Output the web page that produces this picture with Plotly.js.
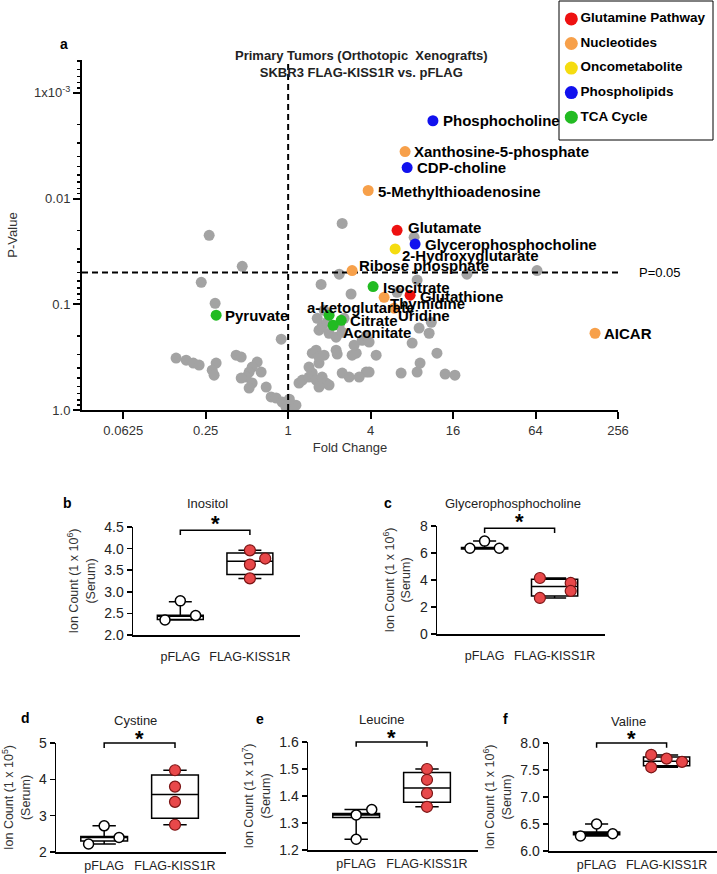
<!DOCTYPE html>
<html>
<head>
<meta charset="utf-8">
<script src="https://cdn.plot.ly/plotly-3.0.1.min.js"></script>
<style>
  html, body { margin: 0; padding: 0; background: #fff; }
  #chart { width: 717px; height: 874px; }
</style>
</head>
<body>
<div id="chart"></div>
<script>
/* ---- volcano: background metabolites (fold change, p-value) ---- */
var greyFC = [2.48, 0.265, 0.462, 0.232, 0.293, 2.36, 1.74, 2.88, 8.31, 20.2,
  65.6, 8.74, 6.24, 0.89, 0.152, 0.180, 0.203, 0.224, 0.298, 0.279,
  0.288, 0.417, 0.454, 0.594, 0.546, 0.519, 0.635, 0.494, 0.454, 0.546,
  0.691, 0.519, 0.751, 0.817, 0.904, 1.02, 0.967, 1.07, 1.14, 1.02,
  1.20, 1.27, 1.42, 1.50, 1.60, 1.77, 1.89, 1.99, 1.68, 1.42,
  1.68, 1.50, 1.60, 1.68, 1.83, 2.24, 2.28, 3.14, 1.68, 1.77,
  1.99, 2.24, 2.48, 2.48, 2.79, 3.71, 3.30, 2.93, 4.39, 3.47,
  3.71, 9.04, 11.1, 10.7, 8.04, 12.2, 9.19, 8.74, 6.68, 14.0,
  16.5, 3.90, 3.90, 1.83, 1.63, 2.56, 1.93, 2.36, 3.03];
var greyP = [0.0172, 0.0223, 0.0438, 0.062, 0.098, 0.052, 0.065, 0.080, 0.0233, 0.052,
  0.048, 0.059, 0.077, 0.214, 0.323, 0.338, 0.36, 0.376, 0.36, 0.42,
  0.468, 0.303, 0.316, 0.352, 0.393, 0.438, 0.438, 0.488, 0.499, 0.556,
  0.607, 0.62, 0.753, 0.77, 0.84, 0.86, 0.94, 0.96, 0.90, 0.79,
  0.556, 0.521, 0.488, 0.448, 0.521, 0.488, 0.556, 0.581, 0.607, 0.393,
  0.36, 0.29, 0.272, 0.316, 0.303, 0.272, 0.296, 0.29, 0.176, 0.161,
  0.188, 0.205, 0.184, 0.448, 0.488, 0.438, 0.488, 0.303, 0.303, 0.219,
  0.20, 0.168, 0.148, 0.188, 0.233, 0.29, 0.36, 0.438, 0.448, 0.457,
  0.468, 0.438, 0.228, 0.114, 0.136, 0.136, 0.148, 0.158, 0.244];

/* ---- volcano: labelled metabolites by pathway ---- */
var glutNames = ['Glutamate', 'Glutathione'];
var glutFC = [6.24, 7.77];
var glutP = [0.020, 0.082];

var nucNames = ['Xanthosine-5-phosphate', '5-Methylthioadenosine', 'Ribose phosphate', 'Thymidine', 'Uridine', 'AICAR'];
var nucFC = [7.14, 3.84, 2.93, 5.02, 5.94, 174];
var nucP = [0.0036, 0.0084, 0.048, 0.086, 0.109, 0.188];

var oncoNames = ['2-Hydroxyglutarate'];
var oncoFC = [6.04];
var oncoP = [0.030];

var phosNames = ['Phosphocholine', 'CDP-choline', 'Glycerophosphocholine'];
var phosFC = [11.4, 7.39, 8.45];
var phosP = [0.00184, 0.0051, 0.027];

var tcaNames = ['Isocitrate', 'a-ketoglutarate', 'Citrate', 'Aconitate', 'Pyruvate'];
var tcaFC = [4.17, 1.99, 2.44, 2.13, 0.298];
var tcaP = [0.068, 0.127, 0.142, 0.158, 0.127];

var pathwayNames = ['Glutamine Pathway', 'Nucleotides', 'Oncometabolite', 'Phospholipids', 'TCA Cycle'];

var fcTicks = [0.0625, 0.25, 1, 4, 16, 64, 256];
var pTicks = [0.001, 0.01, 0.1, 1];
var pTickText = ['1x10<sup>-3</sup>', '0.01', '0.1', '1.0'];
var pCutoff = 0.05;

/* ---- serum panels: ion counts ---- */
var groups = ['pFLAG', 'FLAG-KISS1R'];

var inositolPFLAG = [2.35, 2.79, 2.45];
var inositolKISS = [3.96, 3.77, 3.63, 3.31];
var glycPFLAG = [6.35, 6.88, 6.35];
var glycKISS = [4.15, 3.78, 3.19, 2.67];
var cystinePFLAG = [2.22, 2.72, 2.40];
var cystineKISS = [4.25, 3.80, 3.38, 2.75];
var leucinePFLAG = [1.24, 1.33, 1.35];
var leucineKISS = [1.50, 1.46, 1.41, 1.36];
var valinePFLAG = [6.28, 6.50, 6.32];
var valineKISS = [7.78, 7.71, 7.65, 7.55];

// box stats: min, q1, median, q3, max
var inositolBoxP = [2.35, 2.36, 2.44, 2.46, 2.77];
var inositolBoxK = [3.31, 3.40, 3.71, 3.90, 3.96];
var glycBoxP = [6.30, 6.30, 6.37, 6.40, 6.88];
var glycBoxK = [2.67, 2.81, 3.51, 4.05, 4.15];
var cystineBoxP = [2.22, 2.30, 2.42, 2.43, 2.72];
var cystineBoxK = [2.75, 2.93, 3.58, 4.12, 4.25];
var leucineBoxP = [1.24, 1.32, 1.33, 1.335, 1.35];
var leucineBoxK = [1.36, 1.377, 1.43, 1.487, 1.50];
var valineBoxP = [6.28, 6.30, 6.33, 6.35, 6.50];
var valineBoxK = [7.55, 7.58, 7.66, 7.74, 7.78];

var W = 717, H = 874;
var FONT = 'Liberation Sans, Arial, sans-serif';
function fx(px) { return px / W; }
function fy(py) { return 1 - py / H; }

var colors = { glut: '#ee1111', nuc: '#f7a04a', onco: '#f5dc10', phos: '#1111ee', tca: '#22bb22' };
var pTop = 0.00049;
var fcMin = 1 / 32, fcMax = 256;

var data = [];
var notes = [];

/* grey background points */
data.push({
  type: 'scatter', mode: 'markers', x: greyFC, y: greyP,
  marker: { size: 11, color: '#a3a3a3' },
  hoverinfo: 'skip', xaxis: 'x', yaxis: 'y'
});

/* dashed cut-off lines */
data.push({
  type: 'scatter', mode: 'lines', x: [1, 1], y: [1, pTop],
  line: { color: '#000', width: 2, dash: '6px,4px' },
  hoverinfo: 'skip', xaxis: 'x', yaxis: 'y', cliponaxis: false
});
data.push({
  type: 'scatter', mode: 'lines', x: [fcMin, fcMax], y: [pCutoff, pCutoff],
  line: { color: '#000', width: 2, dash: '6px,4px' },
  hoverinfo: 'skip', xaxis: 'x', yaxis: 'y', cliponaxis: false
});

// label offsets in px: [dx from marker centre to text start, dy of text centre (down +)]
function pathway(color, fc, p, labels, shift) {
  data.push({
    type: 'scatter', mode: 'markers', x: fc, y: p,
    marker: { size: 11, color: color },
    xaxis: 'x', yaxis: 'y', cliponaxis: false, hoverinfo: 'skip'
  });
  labels.forEach(function (lab, i) {
    notes.push({
      xref: 'x', yref: 'y', x: Math.log10(fc[i]), y: Math.log10(p[i]),
      xanchor: 'left', yanchor: 'middle', xshift: shift[i][0], yshift: -shift[i][1],
      text: '<b>' + lab + '</b>', showarrow: false,
      font: { family: FONT, size: 15, color: '#000' }
    });
  });
}
pathway(colors.glut, glutFC, glutP, glutNames, [[9, -3], [8, 1]]);
pathway(colors.nuc, nucFC, nucP, nucNames, [[7, 0], [8, 1], [5, -5], [4, 6], [2, 7], [7, 0]]);
pathway(colors.onco, oncoFC, oncoP, oncoNames, [[5, 7]]);
pathway(colors.phos, phosFC, phosP, phosNames, [[8, 0], [8, 0], [8, 0]]);
pathway(colors.tca, tcaFC, tcaP, tcaNames, [[8, 1], [-24, -8], [7, 0], [8, 7], [7, 0]]);

/* legend drawn on its own small axis pair */
data.push({
  type: 'scatter', mode: 'markers+text',
  x: pathwayNames.map(function () { return 0.08; }),
  y: pathwayNames.map(function (n, i) { return i; }),
  text: pathwayNames, textposition: 'middle right',
  textfont: { family: FONT, size: 13.5, color: '#000', weight: 'bold' },
  marker: { size: 13, color: [colors.glut, colors.nuc, colors.onco, colors.phos, colors.tca] },
  xaxis: 'x8', yaxis: 'y8', cliponaxis: false, hoverinfo: 'skip'
});

/* minor ticks of the p-value axis */
var pMinor = [];
[0.0001, 0.001, 0.01, 0.1].forEach(function (d) {
  for (var k = 2; k <= 9; k++) {
    var v = k * d;
    if (v > pTop) pMinor.push(v);
  }
});
data.push({ type: 'scatter', x: [1], y: [1], yaxis: 'y7', xaxis: 'x', mode: 'markers',
  marker: { opacity: 0 }, hoverinfo: 'skip' });

notes.push(
  { xref: 'paper', yref: 'paper', x: fx(64), y: fy(44), xanchor: 'center', yanchor: 'middle',
    text: '<b>a</b>', showarrow: false, font: { family: FONT, size: 14, color: '#000' } },
  { xref: 'paper', yref: 'paper', x: fx(361), y: fy(64), xanchor: 'center', yanchor: 'middle',
    text: '<b>Primary Tumors (Orthotopic  Xenografts)<br>SKBR3 FLAG-KISS1R vs. pFLAG</b>',
    showarrow: false, font: { family: FONT, size: 13, color: '#222' } },
  { xref: 'paper', yref: 'y', x: fx(637), y: Math.log10(pCutoff), xanchor: 'left', yanchor: 'middle',
    text: 'P=0.05', showarrow: false, font: { family: FONT, size: 13, color: '#000' } }
);

var layout = {
  width: W, height: H,
  margin: { l: 0, r: 0, t: 0, b: 0, autoexpand: false },
  paper_bgcolor: '#fff', plot_bgcolor: 'rgba(0,0,0,0)',
  font: { family: FONT, size: 13, color: '#222' },
  showlegend: false,
  xaxis: {
    domain: [fx(82), fx(618)], anchor: 'y', type: 'log',
    range: [Math.log10(fcMin), Math.log10(fcMax)],
    tickvals: fcTicks, ticktext: fcTicks.map(String),
    ticks: 'outside', ticklen: 7, tickwidth: 2, tickcolor: '#000',
    showline: true, linecolor: '#000', linewidth: 2,
    showgrid: false, zeroline: false, automargin: false,
    tickfont: { family: FONT, size: 13, color: '#333' },
    title: { text: 'Fold Change', font: { family: FONT, size: 13, color: '#333' }, standoff: 6 }
  },
  yaxis: {
    domain: [fy(410), fy(60)], anchor: 'x', type: 'log',
    range: [0, Math.log10(pTop)],
    tickvals: pTicks, ticktext: pTickText,
    ticks: 'outside', ticklen: 7, tickwidth: 2, tickcolor: '#000',
    showline: true, linecolor: '#000', linewidth: 2,
    showgrid: false, zeroline: false, automargin: false,
    tickfont: { family: FONT, size: 13, color: '#333' },
    title: { text: 'P-Value', font: { family: FONT, size: 13, color: '#333' }, standoff: 14 }
  },
  yaxis7: {
    overlaying: 'y', anchor: 'x', side: 'left', type: 'log',
    range: [0, Math.log10(pTop)],
    tickvals: pMinor, showticklabels: false,
    ticks: 'outside', ticklen: 4, tickwidth: 1.5, tickcolor: '#000',
    showline: false, showgrid: false, zeroline: false
  },
  xaxis8: { domain: [fx(559), fx(713)], anchor: 'y8', range: [0, 1], visible: false, fixedrange: true },
  yaxis8: { domain: [fy(140), fy(1)], anchor: 'x8', range: [4.93, -0.73], visible: false, fixedrange: true },
  shapes: [
    { type: 'rect', xref: 'paper', yref: 'paper', x0: fx(559), x1: fx(713), y0: fy(140), y1: fy(1),
      line: { color: '#000', width: 1 } }
  ],
  annotations: notes
};

/* ---- five serum box panels ---- */
var panels = [
  { n: 2, letter: 'b', title: 'Inositol', exp: '6', p: inositolPFLAG, k: inositolKISS,
    bp: inositolBoxP, bk: inositolBoxK, range: [2, 4.5], dtick: 0.5, fmt: '.1f',
    xs: [133, 300], ys: [527, 635], titleAt: [208, 503], letterAt: [67, 503],
    jp: [-0.22, 0, 0.22], jk: [0, 0.22, 0, 0], br: 0.97, lab: 9, star: -8 },
  { n: 3, letter: 'c', title: 'Glycerophosphocholine', exp: '6', p: glycPFLAG, k: glycKISS,
    bp: glycBoxP, bk: glycBoxK, range: [0, 8], dtick: 2, fmt: 'd',
    xs: [437, 605], ys: [526, 634], titleAt: [513, 503], letterAt: [388, 503],
    jp: [-0.21, 0, 0.21], jk: [-0.21, 0.23, 0.23, -0.21], br: 0.98, lab: 9, star: -8 },
  { n: 4, letter: 'd', title: 'Cystine', exp: '5', p: cystinePFLAG, k: cystineKISS,
    bp: cystineBoxP, bk: cystineBoxK, range: [2, 5], dtick: 1, fmt: 'd',
    xs: [56, 226], ys: [743, 852], titleAt: [135, 720], letterAt: [25, 718],
    jp: [-0.22, 0, 0.21], jk: [0, 0, 0, 0], br: 1.0, lab: 1, star: -10 },
  { n: 5, letter: 'e', title: 'Leucine', exp: '7', p: leucinePFLAG, k: leucineKISS,
    bp: leucineBoxP, bk: leucineBoxK, range: [1.2, 1.6], dtick: 0.1, fmt: '.1f',
    xs: [308, 478], ys: [742, 850], titleAt: [382, 719], letterAt: [260, 719],
    jp: [0, 0, 0.22], jk: [0, 0, 0, 0], br: 1.0, lab: 1, star: -10 },
  { n: 6, letter: 'f', title: 'Valine', exp: '6', p: valinePFLAG, k: valineKISS,
    bp: valineBoxP, bk: valineBoxK, range: [6, 8], dtick: 0.5, fmt: '.1f',
    xs: [549, 717], ys: [743, 851], titleAt: [628, 721], letterAt: [505, 719],
    jp: [-0.23, 0, 0.23], jk: [-0.22, 0, 0.22, -0.22], br: 1.0, lab: 1, star: -10 }
];

panels.forEach(function (pn) {
  var xa = 'x' + pn.n, ya = 'y' + pn.n;

  layout['xaxis' + pn.n] = {
    domain: [fx(pn.xs[0]), fx(pn.xs[1])], anchor: ya,
    range: [-0.68, 1.72], tickvals: [0, 1], ticktext: groups, tickangle: 0,
    ticks: '', ticklabelstandoff: pn.lab, showline: true, linecolor: '#000', linewidth: 1.5,
    showgrid: false, zeroline: false, automargin: false,
    tickfont: { family: FONT, size: 12.5, color: '#222' }
  };
  layout['yaxis' + pn.n] = {
    domain: [fy(pn.ys[1]), fy(pn.ys[0])], anchor: xa,
    range: pn.range, dtick: pn.dtick, tick0: pn.range[0], tickformat: pn.fmt,
    ticks: 'outside', ticklen: 5, tickwidth: 1.5, tickcolor: '#000',
    showline: true, linecolor: '#000', linewidth: 1.5,
    showgrid: false, zeroline: false, automargin: false,
    tickfont: { family: FONT, size: 14, color: '#222' },
    title: { text: 'Ion Count (1 x 10<sup>' + pn.exp + '</sup>)<br>(Serum)',
      font: { family: FONT, size: 12.5, color: '#333' }, standoff: 6 }
  };

  [pn.bp, pn.bk].forEach(function (s, g) {
    data.push({
      type: 'box', x: [g], lowerfence: [s[0]], q1: [s[1]], median: [s[2]], q3: [s[3]], upperfence: [s[4]],
      width: 0.66, whiskerwidth: 0.5, boxpoints: false,
      line: { color: '#000', width: 1.5 }, fillcolor: 'rgba(0,0,0,0)',
      xaxis: xa, yaxis: ya, hoverinfo: 'skip'
    });
  });

  data.push({
    type: 'scatter', mode: 'markers', x: pn.p.map(function (v, i) { return 0 + pn.jp[i]; }), y: pn.p,
    marker: { size: 10, color: '#fff', line: { color: '#000', width: 1.5 } },
    xaxis: xa, yaxis: ya, hoverinfo: 'skip', cliponaxis: false
  });
  data.push({
    type: 'scatter', mode: 'markers', x: pn.k.map(function (v, i) { return 1 + pn.jk[i]; }), y: pn.k,
    marker: { size: 11, color: '#e8484a', line: { color: '#7a1414', width: 1.2 } },
    xaxis: xa, yaxis: ya, hoverinfo: 'skip', cliponaxis: false
  });

  layout.shapes.push({
    type: 'path', xref: xa, yref: ya + ' domain',
    path: 'M0,' + (pn.br - 0.045) + ' L0,' + pn.br + ' L1,' + pn.br + ' L1,' + (pn.br - 0.045),
    line: { color: '#000', width: 1.5 }
  });
  notes.push({
    xref: xa, yref: ya + ' domain', x: 0.5, y: pn.br, xanchor: 'center', yanchor: 'bottom', yshift: pn.star,
    text: '<b>*</b>', showarrow: false, font: { family: FONT, size: 22, color: '#000' }
  });
  notes.push({
    xref: 'paper', yref: 'paper', x: fx(pn.titleAt[0]), y: fy(pn.titleAt[1]),
    xanchor: 'center', yanchor: 'middle',
    text: pn.title, showarrow: false, font: { family: FONT, size: 13, color: '#222' }
  });
  notes.push({
    xref: 'paper', yref: 'paper', x: fx(pn.letterAt[0]), y: fy(pn.letterAt[1]),
    xanchor: 'center', yanchor: 'middle',
    text: '<b>' + pn.letter + '</b>', showarrow: false, font: { family: FONT, size: 14, color: '#000' }
  });
});

Plotly.newPlot('chart', data, layout, { staticPlot: true, displayModeBar: false });
</script>
</body>
</html>
